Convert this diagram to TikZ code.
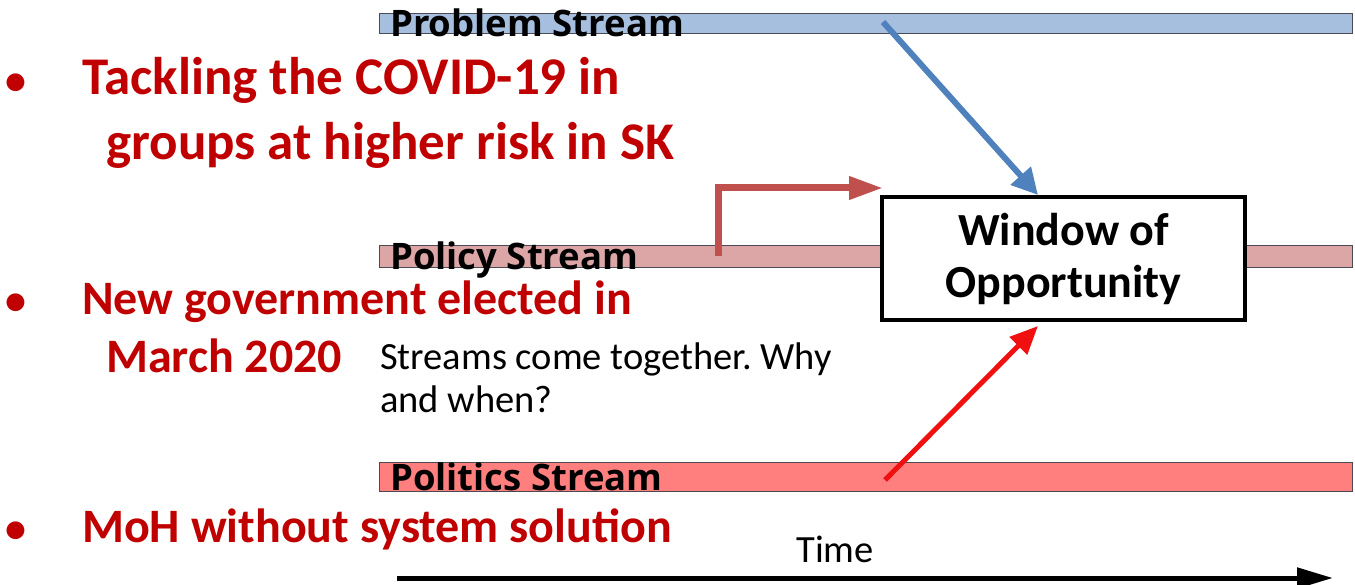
\documentclass[tikz,border=0pt]{standalone}
\usepackage{fontspec}
\setmainfont{Carlito}
\newfontfamily\labelfont{Open Sans}
\usetikzlibrary{arrows.meta}
\definecolor{barline}{HTML}{4A4A52}
\definecolor{problemfill}{HTML}{A7BFDE}
\definecolor{policyfill}{HTML}{DDA6A6}
\definecolor{politicsfill}{HTML}{FF7F7F}
\definecolor{problemarrow}{HTML}{4F81BD}
\definecolor{policyarrow}{HTML}{C0504D}
\definecolor{politicsarrow}{HTML}{F01010}
\definecolor{bulletred}{HTML}{C00000}
\frenchspacing
\begin{document}
\begin{tikzpicture}[x=1pt,y=-1pt,
	streambar/.style={draw=barline, line width=1.2pt, anchor=north west, minimum width=973pt, inner sep=0pt},
	streamlabel/.style={anchor=base west, inner sep=0pt, font=\labelfont\fontsize{36.5}{40}\selectfont\bfseries},
	bullettext/.style={anchor=base west, inner sep=0pt, text=bulletred, font=\fontsize{48}{56}\selectfont\bfseries},
	bulletdot/.style={anchor=base west, inner sep=0pt, text=bulletred, font=\fontsize{42}{48}\selectfont\bfseries},
	plaintext/.style={anchor=base west, inner sep=0pt, font=\fontsize{38.5}{42}\selectfont}]
		\useasboundingbox (0,0) rectangle (1355,585);
		\node [streambar, fill=problemfill, minimum height=20pt] (problem) at (379,13) {};
		\node [streambar, fill=policyfill, minimum height=22pt] (policy) at (379,245) {};
		\node [streambar, fill=politicsfill, minimum height=29pt] (politics) at (379,462) {};
		\node [streamlabel] (problemlabel) at (390,37) {Problem Stream};
		\node [streamlabel] (policylabel) at (390,270) {Policy Stream};
		\node [streamlabel] (politicslabel) at (390,490) {Politics Stream};
		\node [draw, fill=white, line width=3.5pt, minimum width=363pt, minimum height=123pt, align=center, font=\fontsize{46}{52}\selectfont\bfseries] (window) at (1063.5,258.5) {Window of\\Opportunity};
		\coordinate (problemstart) at (883,22);
		\coordinate (windowtop) at (1038,195);
		\coordinate (policystart) at (718,256);
		\coordinate (policytip) at (883,188);
		\coordinate (politicsstart) at (885,480);
		\coordinate (windowbottom) at (1038,326);
		\draw [-{Triangle[length=26pt,width=26pt]}, problemarrow, line width=6pt] (problemstart)--(windowtop);
		\draw [-{Triangle[length=34pt,width=22pt]}, policyarrow, line width=7pt] (policystart) |- (policytip);
		\draw [-{Triangle[length=28pt,width=24pt]}, politicsarrow, line width=5pt] (politicsstart)--(windowbottom);
		\node [plaintext] (question1) at (380,370) {Streams come together. Why};
		\node [plaintext] (question2) at (380,412) {and when?};
		\coordinate (timestart) at (397,578);
		\coordinate (timeend) at (1333,578);
		\draw [-{Triangle[length=36pt,width=20pt]}, line width=5pt] (timestart)--(timeend);
		\node [plaintext, anchor=base] (time) at (835,562) {Time};
		\node [bulletdot] (dot1) at (5,95) {•};
		\node [bullettext, font=\fontsize{53}{60}\selectfont\bfseries] (covid1) at (82,95) {Tackling the COVID-19 in};
		\node [bullettext, font=\fontsize{53}{60}\selectfont\bfseries] (covid2) at (106,160) {groups at higher risk in SK};
		\node [bulletdot] (dot2) at (5,315) {•};
		\node [bullettext] (election1) at (82,315) {New government elected in};
		\node [bullettext] (election2) at (106,373) {March 2020};
		\node [bulletdot] (dot3) at (5,542) {•};
		\node [bullettext] (moh) at (82,542) {MoH without system solution};
	\end{tikzpicture}
\end{document}
